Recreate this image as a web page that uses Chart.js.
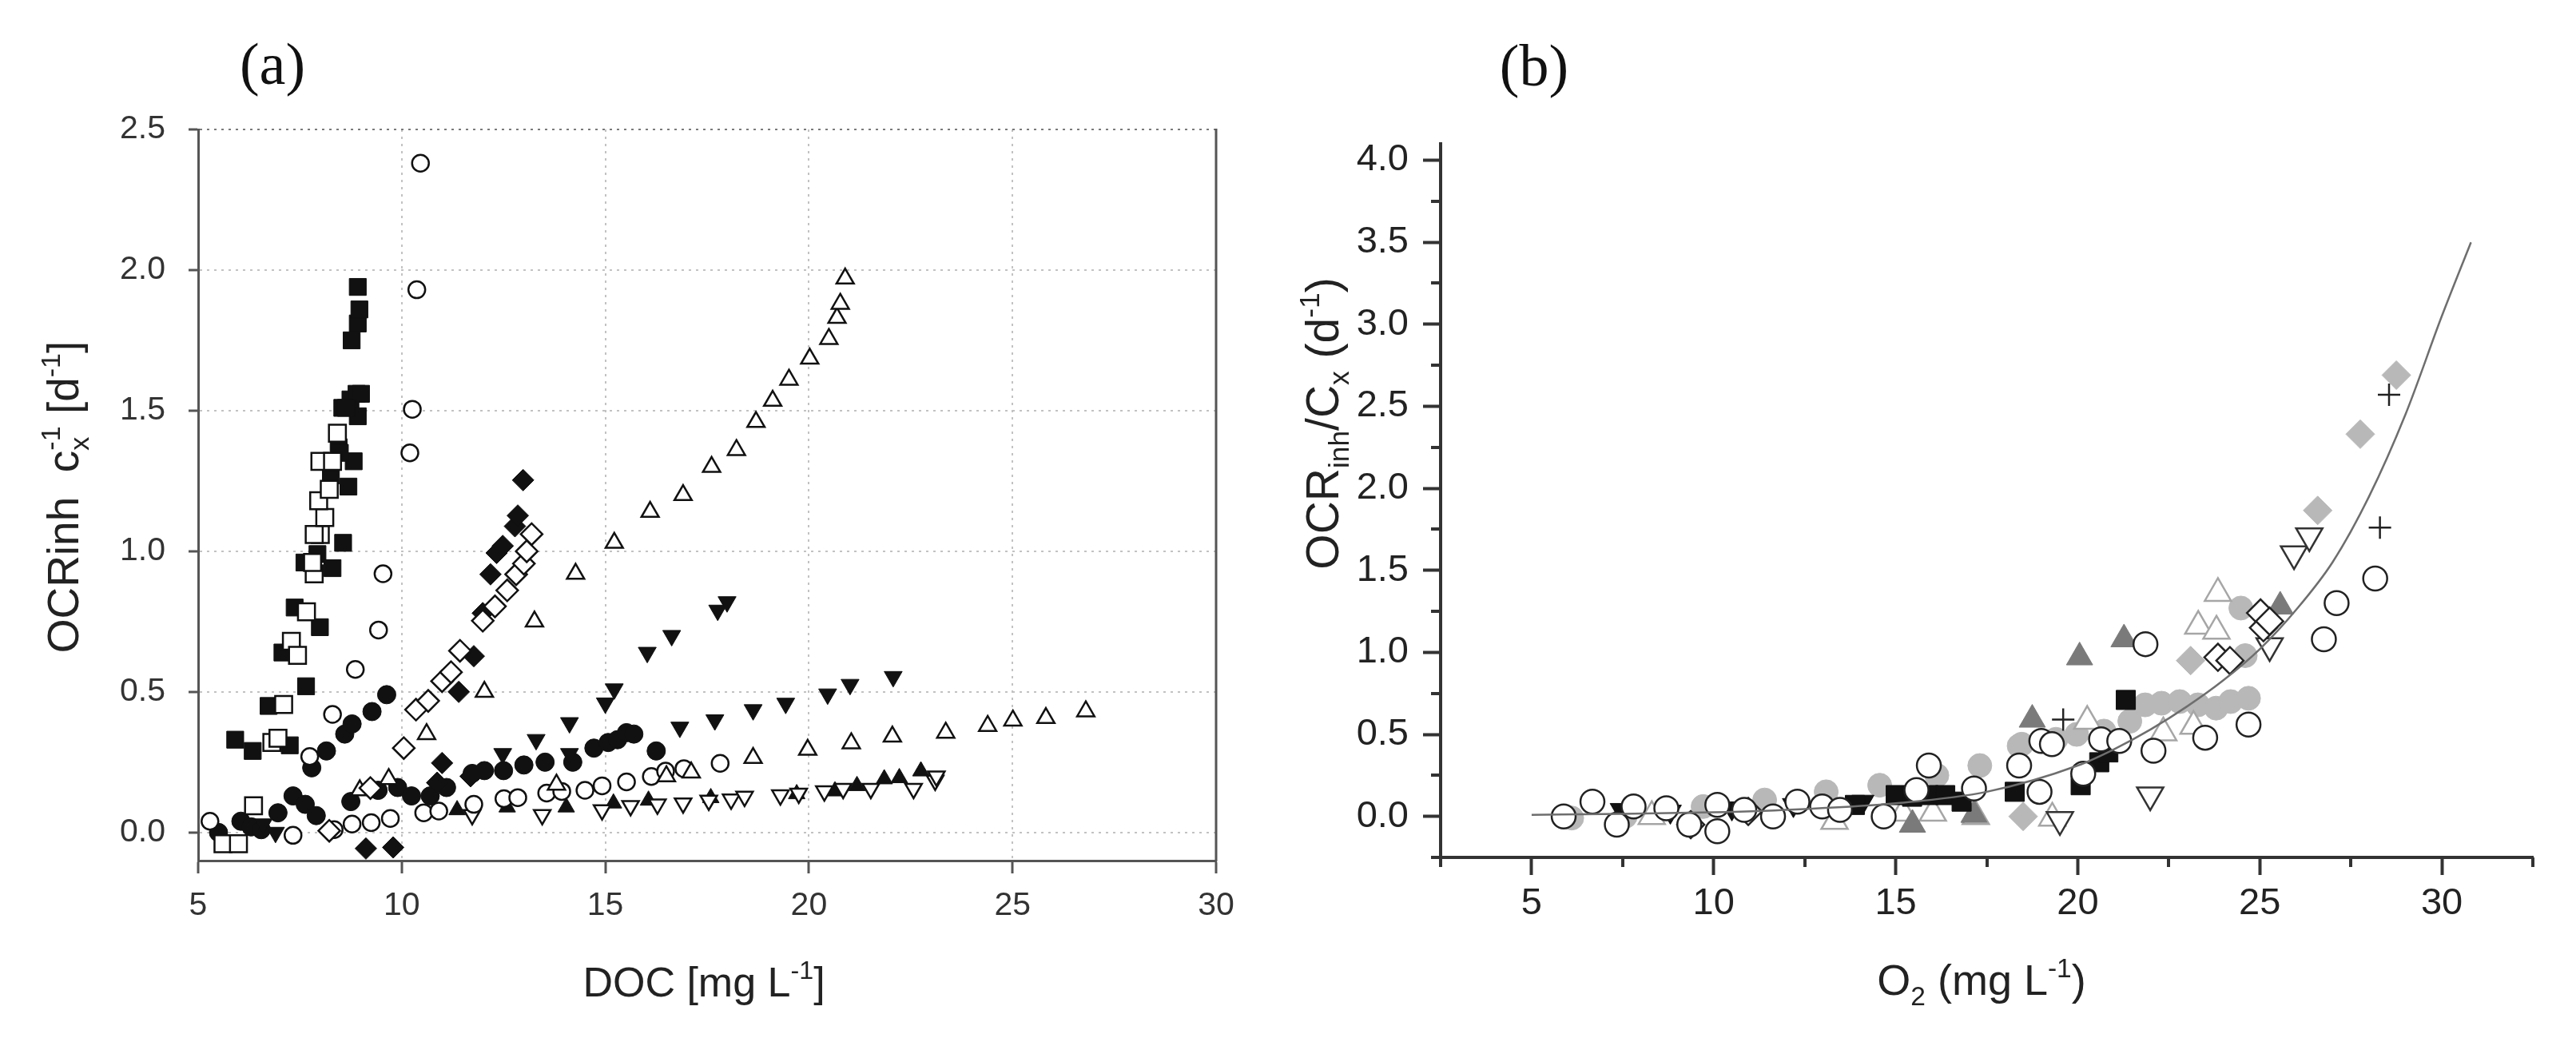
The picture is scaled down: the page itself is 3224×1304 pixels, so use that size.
<!DOCTYPE html>
<html><head><meta charset="utf-8">
<script src="https://cdn.jsdelivr.net/npm/chart.js@4.4.1/dist/chart.umd.min.js"></script>
<style>
html,body{margin:0;padding:0;background:#fff;width:3224px;height:1304px;overflow:hidden}
.p{position:absolute;top:0;width:1612px;height:1304px}
#pa{left:0}#pb{left:1612px}
</style></head><body>
<div class="p" id="pa"><canvas id="ca"></canvas></div>
<div class="p" id="pb"><canvas id="cb"></canvas></div>
<script>
// ---------- Panel (a) ticks ----------
const aXTicks = [5, 10, 15, 20, 25, 30];
const aXLabels = ['5', '10', '15', '20', '25', '30'];
const aYTicks = [0, 0.5, 1, 1.5, 2, 2.5];
const aYLabels = ['0.0', '0.5', '1.0', '1.5', '2.0', '2.5'];

// ---------- Panel (a) data ----------
const aSqFillX = [5.91, 6.34, 6.73, 7.25, 7.07, 7.37, 7.65, 7.99, 7.61, 7.93, 8.30, 8.56, 8.26, 8.69, 8.82, 8.45, 8.48, 8.54, 8.74, 8.89, 9.0, 8.92, 8.63, 8.77, 8.92, 8.96, 8.92];
const aSqFillY = [0.33, 0.29, 0.45, 0.31, 0.64, 0.80, 0.52, 0.73, 0.96, 0.99, 0.94, 1.03, 1.27, 1.23, 1.32, 1.37, 1.35, 1.51, 1.54, 1.56, 1.56, 1.48, 1.51, 1.75, 1.81, 1.86, 1.94];
const aSqOpenX = [5.61, 5.99, 6.36, 6.81, 6.96, 7.10, 7.29, 7.44, 7.66, 7.85, 7.81, 8.0, 7.85, 8.11, 7.96, 8.22, 7.99, 8.30, 8.42];
const aSqOpenY = [-0.04, -0.04, 0.095, 0.32, 0.335, 0.455, 0.68, 0.63, 0.785, 0.92, 0.96, 1.06, 1.06, 1.12, 1.18, 1.22, 1.32, 1.32, 1.42];
const aCircOpen1X = [7.74, 8.30, 8.86, 9.43, 9.54, 10.20, 10.26, 10.37, 10.46];
const aCircOpen1Y = [0.27, 0.42, 0.58, 0.72, 0.92, 1.35, 1.505, 1.93, 2.38];
const aCircOpen2X = [5.29, 7.33, 8.34, 8.78, 9.25, 9.72, 10.54, 10.91, 11.77, 12.51, 12.85, 13.56, 13.93, 14.5, 14.92, 15.52, 16.13, 16.48, 16.93, 17.82];
const aCircOpen2Y = [0.04, -0.01, 0.01, 0.03, 0.035, 0.05, 0.07, 0.076, 0.10, 0.12, 0.124, 0.14, 0.146, 0.15, 0.166, 0.18, 0.199, 0.218, 0.227, 0.246];
const aCircFill1X = [7.79, 8.15, 8.60, 8.78, 9.27, 9.63];
const aCircFill1Y = [0.23, 0.29, 0.35, 0.386, 0.43, 0.49];
const aCircFill2X = [5.5, 6.05, 6.3, 6.55, 6.96, 7.33, 7.63, 7.9, 8.75, 9.42, 9.9, 10.24, 10.7, 11.1, 11.73, 12.03, 12.5, 13.0, 13.52, 14.2, 14.72, 15.07, 15.3, 15.52, 15.7, 16.25];
const aCircFill2Y = [0.0, 0.04, 0.02, 0.01, 0.07, 0.13, 0.10, 0.06, 0.11, 0.15, 0.16, 0.13, 0.13, 0.16, 0.21, 0.22, 0.22, 0.24, 0.25, 0.25, 0.30, 0.32, 0.33, 0.355, 0.35, 0.29];
const aDiaFillX = [9.12, 9.79, 10.87, 10.99, 11.40, 11.69, 11.77, 11.99, 12.18, 12.33, 12.48, 12.78, 12.85, 12.98];
const aDiaFillY = [-0.057, -0.053, 0.177, 0.247, 0.50, 0.20, 0.627, 0.78, 0.918, 0.994, 1.019, 1.089, 1.127, 1.253];
const aDiaOpenX = [8.22, 9.23, 10.05, 10.35, 10.65, 10.99, 11.21, 11.43, 11.99, 12.29, 12.59, 12.81, 13.0, 13.07, 13.19];
const aDiaOpenY = [0.006, 0.158, 0.30, 0.437, 0.468, 0.538, 0.57, 0.646, 0.753, 0.804, 0.861, 0.918, 0.956, 1.0, 1.061];
const aTriUpOpen1X = [8.97, 9.68, 10.61, 12.03, 13.26, 14.27, 15.22, 16.10, 16.91, 17.61, 18.22, 18.70, 19.11, 19.51, 20.02, 20.49, 20.69, 20.77, 20.89];
const aTriUpOpen1Y = [0.15, 0.19, 0.35, 0.50, 0.75, 0.92, 1.03, 1.14, 1.20, 1.30, 1.36, 1.46, 1.535, 1.61, 1.685, 1.755, 1.83, 1.88, 1.97];
const aTriUpOpen2X = [13.8, 16.5, 17.11, 18.63, 19.97, 21.04, 22.05, 23.36, 24.39, 25.01, 25.82, 26.80];
const aTriUpOpen2Y = [0.17, 0.20, 0.213, 0.265, 0.294, 0.317, 0.341, 0.355, 0.379, 0.398, 0.407, 0.431];
const aTriDnFillX = [6.6, 6.9, 12.48, 13.30, 14.12, 14.12, 15.0, 15.22, 16.03, 16.63, 16.83, 17.69, 17.76, 17.99, 18.63, 19.43, 20.46, 21.01, 22.07];
const aTriDnFillY = [0.03, 0.0, 0.28, 0.33, 0.39, 0.28, 0.46, 0.51, 0.64, 0.70, 0.374, 0.40, 0.79, 0.82, 0.436, 0.459, 0.492, 0.526, 0.554];
const aTriUpFillX = [11.36, 12.59, 14.04, 15.20, 16.06, 17.59, 19.70, 20.64, 21.18, 21.85, 22.22, 22.75];
const aTriUpFillY = [0.08, 0.09, 0.09, 0.104, 0.114, 0.123, 0.137, 0.147, 0.166, 0.19, 0.194, 0.218];
const aTriDnOpenX = [11.73, 13.45, 14.92, 15.62, 16.28, 16.91, 17.54, 18.09, 18.42, 19.30, 19.75, 20.38, 20.84, 21.52, 22.57, 23.10, 23.13];
const aTriDnOpenY = [0.063, 0.063, 0.08, 0.095, 0.10, 0.104, 0.114, 0.118, 0.128, 0.133, 0.139, 0.147, 0.156, 0.156, 0.156, 0.185, 0.20];

// ---------- Panel (b) ticks ----------
const bXTicks = [5, 10, 15, 20, 25, 30];
const bXLabels = ['5', '10', '15', '20', '25', '30'];
const bYTicks = [0, 0.5, 1, 1.5, 2, 2.5, 3, 3.5, 4];
const bYLabels = ['0.0', '0.5', '1.0', '1.5', '2.0', '2.5', '3.0', '3.5', '4.0'];
const bXMinor = [2.5, 7.5, 12.5, 17.5, 22.5, 27.5, 32.5];
const bYMinor = [-0.25, 0.25, 0.75, 1.25, 1.75, 2.25, 2.75, 3.25, 3.75];

// ---------- Panel (b) data ----------
const bCircOpenX = [5.88, 6.67, 7.34, 7.8, 8.7, 9.33, 10.1, 10.1, 10.84, 11.63, 12.3, 12.98, 13.47, 14.67, 15.57, 15.91, 17.15, 18.39, 18.95, 19.0, 19.29, 20.15, 20.64, 21.14, 21.86, 22.08, 23.50, 24.69, 26.76, 27.11, 28.17];
const bCircOpenY = [0.0, 0.09, -0.05, 0.06, 0.05, -0.05, -0.09, 0.07, 0.04, 0.0, 0.09, 0.06, 0.04, 0.0, 0.16, 0.31, 0.17, 0.31, 0.15, 0.46, 0.44, 0.26, 0.47, 0.46, 1.05, 0.40, 0.48, 0.56, 1.08, 1.30, 1.45];
const bCircGrayX = [6.1, 7.57, 9.71, 11.40, 13.09, 14.56, 16.13, 17.31, 18.39, 18.46, 19.40, 19.97, 20.72, 21.43, 21.85, 22.3, 22.8, 23.3, 23.8, 24.2, 24.69, 24.48, 24.60];
const bCircGrayY = [-0.01, 0.0, 0.06, 0.10, 0.15, 0.19, 0.25, 0.31, 0.43, 0.44, 0.47, 0.50, 0.52, 0.58, 0.68, 0.69, 0.70, 0.68, 0.66, 0.70, 0.72, 1.27, 0.98];
const bTriUpDarkX = [15.46, 17.15, 18.75, 20.05, 21.27, 25.56];
const bTriUpDarkY = [-0.05, 0.01, 0.59, 0.97, 1.08, 1.28];
const bTriUpLightX = [8.3, 13.32, 15.2, 16.02, 17.2, 19.3, 20.26, 22.35, 23.18, 23.31, 23.81, 23.85];
const bTriUpLightY = [0.0, -0.03, 0.02, 0.02, 0.0, -0.01, 0.58, 0.51, 0.55, 1.16, 1.13, 1.36];
const bTriDnOpenX = [19.51, 21.99, 25.27, 25.94, 26.36];
const bTriDnOpenY = [-0.02, 0.13, 1.04, 1.60, 1.71];
const bDiaGrayX = [18.5, 23.10, 26.59, 27.76, 28.75];
const bDiaGrayY = [0.0, 0.95, 1.865, 2.33, 2.69];
const bSqFillX = [13.88, 15.0, 15.45, 15.9, 16.36, 16.81, 18.27, 20.08, 20.59, 20.84, 21.32];
const bSqFillY = [0.07, 0.13, 0.12, 0.13, 0.13, 0.09, 0.15, 0.19, 0.33, 0.39, 0.71];
const bCrossX = [19.6, 28.3, 28.55];
const bCrossY = [0.59, 1.76, 2.57];
const bDiaOpenX = [9.37, 10.95, 23.85, 24.18, 25.02, 25.10, 25.27];
const bDiaOpenY = [-0.05, 0.03, 0.97, 0.95, 1.24, 1.15, 1.19];
const bTriDnFillX = [7.46, 8.81, 10.5, 12.19, 14.1];
const bTriDnFillY = [0.04, 0.03, 0.05, 0.07, 0.09];
const bFitX = [5, 7.5, 10, 12.5, 15, 17.5, 20, 21, 22, 23, 24, 25, 26, 27, 28, 29, 30, 30.8];
const bFitY = [0.01, 0.015, 0.025, 0.045, 0.08, 0.15, 0.31, 0.41, 0.53, 0.67, 0.83, 1.02, 1.26, 1.55, 1.95, 2.45, 3.05, 3.5];

// ---------- helpers ----------
const pts = (xs, ys) => xs.map((x, i) => ({x: x, y: ys[i]}));
function sc(label, xs, ys, style, r, fill, stroke, bw, rot) {
  return {label: label, data: pts(xs, ys), showLine: false, pointStyle: style, pointRadius: r,
    pointHoverRadius: r, pointRotation: rot || 0, pointBackgroundColor: fill, pointBorderColor: stroke,
    pointBorderWidth: bw, backgroundColor: fill, borderColor: stroke};
}
function layoutRuns(ctx, runs, size, family) {
  let x = 0, prevStart = 0; const out = [];
  for (const r of runs) {
    const fs = r.s ? size * 0.62 : size;
    ctx.font = fs + 'px "' + family + '"';
    const w = ctx.measureText(r.t).width;
    const sx = r.stack ? prevStart : x;
    const dy = r.s === 'sub' ? size * 0.24 : (r.s === 'sup' ? -size * 0.42 : 0);
    out.push({t: r.t, x: sx, dy: dy, fs: fs});
    if (r.stack) { x = Math.max(x, sx + w); } else { prevStart = sx; x = sx + w; }
  }
  return {out: out, width: x};
}
function drawRich(ctx, runs, cx, cy, size, family, color, rotate) {
  ctx.save();
  ctx.translate(cx, cy);
  if (rotate) ctx.rotate(-Math.PI / 2);
  const L = layoutRuns(ctx, runs, size, family);
  ctx.fillStyle = color;
  ctx.textBaseline = 'alphabetic';
  ctx.textAlign = 'left';
  const x0 = -L.width / 2, base = size * 0.36;
  for (const o of L.out) {
    ctx.font = o.fs + 'px "' + family + '"';
    ctx.fillText(o.t, x0 + o.x, base + o.dy);
  }
  ctx.restore();
}
function drawPlain(ctx, text, cx, cy, size, family, color) {
  ctx.save();
  ctx.font = size + 'px "' + family + '"';
  ctx.fillStyle = color; ctx.textAlign = 'center'; ctx.textBaseline = 'middle';
  ctx.fillText(text, cx, cy);
  ctx.restore();
}

const SANS = 'Liberation Sans';
const SERIF = 'Liberation Serif';
Chart.defaults.font.family = SANS;

// ---------- Chart A ----------
const aWhite = '#ffffff', aBlack = '#111111';
const decoA = {
  id: 'decoA',
  afterDraw(chart) {
    const ctx = chart.ctx, ca = chart.chartArea;
    ctx.save();
    ctx.strokeStyle = '#555'; ctx.lineWidth = 3;
    ctx.beginPath(); ctx.moveTo(ca.right, ca.top - 1); ctx.lineTo(ca.right, ca.bottom + 1); ctx.stroke();
    ctx.restore();
    drawPlain(ctx, '(a)', 341, 86, 74, SERIF, '#111');
    drawRich(ctx, [{t: 'DOC [mg L'}, {t: '-1', s: 'sup'}, {t: ']'}], 881, 1228, 52, SANS, '#222', false);
    drawRich(ctx, [{t: 'OCRinh  c'}, {t: 'x', s: 'sub'}, {t: '-1', s: 'sup', stack: true}, {t: ' [d'}, {t: '-1', s: 'sup'}, {t: ']'}], 78, 622, 55, SANS, '#222', true);
  }
};
new Chart(document.getElementById('ca'), {
  type: 'scatter',
  data: {datasets: [
    sc('open circles 1', aCircOpen1X, aCircOpen1Y, 'circle', 10.5, aWhite, aBlack, 2.5),
    sc('open squares', aSqOpenX, aSqOpenY, 'rect', 15, aWhite, aBlack, 2.5),
    sc('filled squares', aSqFillX, aSqFillY, 'rect', 15, aBlack, aBlack, 1),
    sc('open diamonds', aDiaOpenX, aDiaOpenY, 'rectRot', 13.5, aWhite, aBlack, 2.5),
    sc('filled diamonds', aDiaFillX, aDiaFillY, 'rectRot', 13.5, aBlack, aBlack, 1),
    sc('open up triangles 1', aTriUpOpen1X, aTriUpOpen1Y, 'triangle', 12.5, aWhite, aBlack, 2.5),
    sc('open up triangles 2', aTriUpOpen2X, aTriUpOpen2Y, 'triangle', 12.5, aWhite, aBlack, 2.5),
    sc('filled down triangles', aTriDnFillX, aTriDnFillY, 'triangle', 13, aBlack, aBlack, 1, 180),
    sc('open circles 2', aCircOpen2X, aCircOpen2Y, 'circle', 10.5, aWhite, aBlack, 2.5),
    sc('open down triangles', aTriDnOpenX, aTriDnOpenY, 'triangle', 12, aWhite, aBlack, 2.5, 180),
    sc('filled up triangles', aTriUpFillX, aTriUpFillY, 'triangle', 12, aBlack, aBlack, 1),
    sc('filled circles 1', aCircFill1X, aCircFill1Y, 'circle', 11.5, aBlack, aBlack, 1),
    sc('filled circles 2', aCircFill2X, aCircFill2Y, 'circle', 11.5, aBlack, aBlack, 1)
  ]},
  options: {
    responsive: true, maintainAspectRatio: false, animation: false, devicePixelRatio: 1,
    layout: {padding: {left: 0, right: 90, top: 162, bottom: 0}},
    plugins: {legend: {display: false}, tooltip: {enabled: false}},
    scales: {
      x: {type: 'linear', min: 5, max: 30,
        afterBuildTicks: s => { s.ticks = aXTicks.map(v => ({value: v})); },
        afterFit: s => { s.height = 227; },
        grid: {color: '#c2c2c2', lineWidth: 2, tickLength: 16, tickColor: '#555', tickWidth: 3},
        border: {display: true, color: '#555', width: 3, dash: [3, 6]},
        ticks: {autoSkip: false, maxRotation: 0, padding: 16, color: '#333', font: {family: SANS, size: 41},
          callback: (v, i) => aXLabels[i]}
      },
      y: {type: 'linear', min: -0.1, max: 2.5,
        afterBuildTicks: s => { s.ticks = aYTicks.map(v => ({value: v})); },
        afterFit: s => { s.width = 248; },
        grid: {color: c => (c.tick && c.tick.value === 2.5) ? '#7a7a7a' : '#c2c2c2', lineWidth: 2, tickLength: 12, tickColor: '#555', tickWidth: 3},
        border: {display: true, color: '#555', width: 3, dash: [3, 6]},
        ticks: {autoSkip: false, padding: 29, color: '#333', font: {family: SANS, size: 41},
          callback: (v, i) => aYLabels[i]}
      }
    }
  },
  plugins: [decoA]
});

// ---------- Chart B ----------
const gLight = '#b8b8b8', gDark = '#7a7a7a', bBlack = '#111111', bWhite = '#ffffff';
const decoB = {
  id: 'decoB',
  afterDraw(chart) {
    const ctx = chart.ctx, ca = chart.chartArea, xs = chart.scales.x, ys = chart.scales.y;
    ctx.save();
    ctx.strokeStyle = '#333'; ctx.lineWidth = 4;
    ctx.beginPath();
    for (const v of bXMinor) { const px = Math.round(xs.getPixelForValue(v)); ctx.moveTo(px, ca.bottom); ctx.lineTo(px, ca.bottom + 12); }
    for (const v of bYMinor) { const py = Math.round(ys.getPixelForValue(v)); ctx.moveTo(ca.left, py); ctx.lineTo(ca.left - 12, py); }
    ctx.stroke();
    ctx.restore();
    drawPlain(ctx, '(b)', 308, 88, 74, SERIF, '#111');
    drawRich(ctx, [{t: 'O'}, {t: '2', s: 'sub'}, {t: ' (mg L'}, {t: '-1', s: 'sup'}, {t: ')'}], 868, 1226, 54, SANS, '#222', false);
    drawRich(ctx, [{t: 'OCR'}, {t: 'inh', s: 'sub'}, {t: '/C'}, {t: 'x', s: 'sub'}, {t: ' (d'}, {t: '-1', s: 'sup'}, {t: ')'}], 42, 530, 57, SANS, '#222', true);
  }
};
const fitDs = {label: 'fit', data: pts(bFitX, bFitY), showLine: true, pointRadius: 0, borderColor: '#6e6e6e',
  borderWidth: 2.5, cubicInterpolationMode: 'monotone', fill: false};
new Chart(document.getElementById('cb'), {
  type: 'scatter',
  data: {datasets: [
    fitDs,
    sc('crosses', bCrossX, bCrossY, 'cross', 14, bBlack, '#222', 2.5),
    sc('open circles', bCircOpenX, bCircOpenY, 'circle', 15, bWhite, '#222', 2.5),
    sc('open diamonds', bDiaOpenX, bDiaOpenY, 'rectRot', 17, bWhite, '#222', 2.5),
    sc('filled squares', bSqFillX, bSqFillY, 'rect', 17, bBlack, bBlack, 1),
    sc('filled down triangles', bTriDnFillX, bTriDnFillY, 'triangle', 16, bBlack, bBlack, 1, 180),
    sc('open down triangles', bTriDnOpenX, bTriDnOpenY, 'triangle', 19, bWhite, '#333', 2.5, 180),
    sc('dark triangles', bTriUpDarkX, bTriUpDarkY, 'triangle', 19, gDark, gDark, 1),
    sc('gray diamonds', bDiaGrayX, bDiaGrayY, 'rectRot', 18, gLight, gLight, 1),
    sc('light open triangles', bTriUpLightX, bTriUpLightY, 'triangle', 19, bWhite, '#a6a6a6', 2.5),
    sc('gray circles', bCircGrayX, bCircGrayY, 'circle', 15, gLight, gLight, 1)
  ]},
  options: {
    responsive: true, maintainAspectRatio: false, animation: false, devicePixelRatio: 1,
    layout: {padding: {left: 0, right: 54, top: 180, bottom: 0}},
    plugins: {legend: {display: false}, tooltip: {enabled: false}},
    scales: {
      x: {type: 'linear', min: 2.5, max: 32.5,
        afterBuildTicks: s => { s.ticks = bXTicks.map(v => ({value: v})); },
        afterFit: s => { s.height = 231; },
        grid: {drawOnChartArea: false, color: '#333', tickLength: 22, tickColor: '#333', tickWidth: 4},
        border: {display: true, color: '#333', width: 4},
        ticks: {autoSkip: false, maxRotation: 0, padding: 8, color: '#222', font: {family: SANS, size: 47},
          callback: (v, i) => bXLabels[i]}
      },
      y: {type: 'linear', min: -0.25, max: 4.1,
        afterBuildTicks: s => { s.ticks = bYTicks.map(v => ({value: v})); },
        afterFit: s => { s.width = 191; },
        grid: {drawOnChartArea: false, color: '#333', tickLength: 22, tickColor: '#333', tickWidth: 4},
        border: {display: true, color: '#333', width: 4},
        ticks: {autoSkip: false, padding: 18, color: '#222', font: {family: SANS, size: 47},
          callback: (v, i) => bYLabels[i]}
      }
    }
  },
  plugins: [decoB]
});
</script>
</body></html>
